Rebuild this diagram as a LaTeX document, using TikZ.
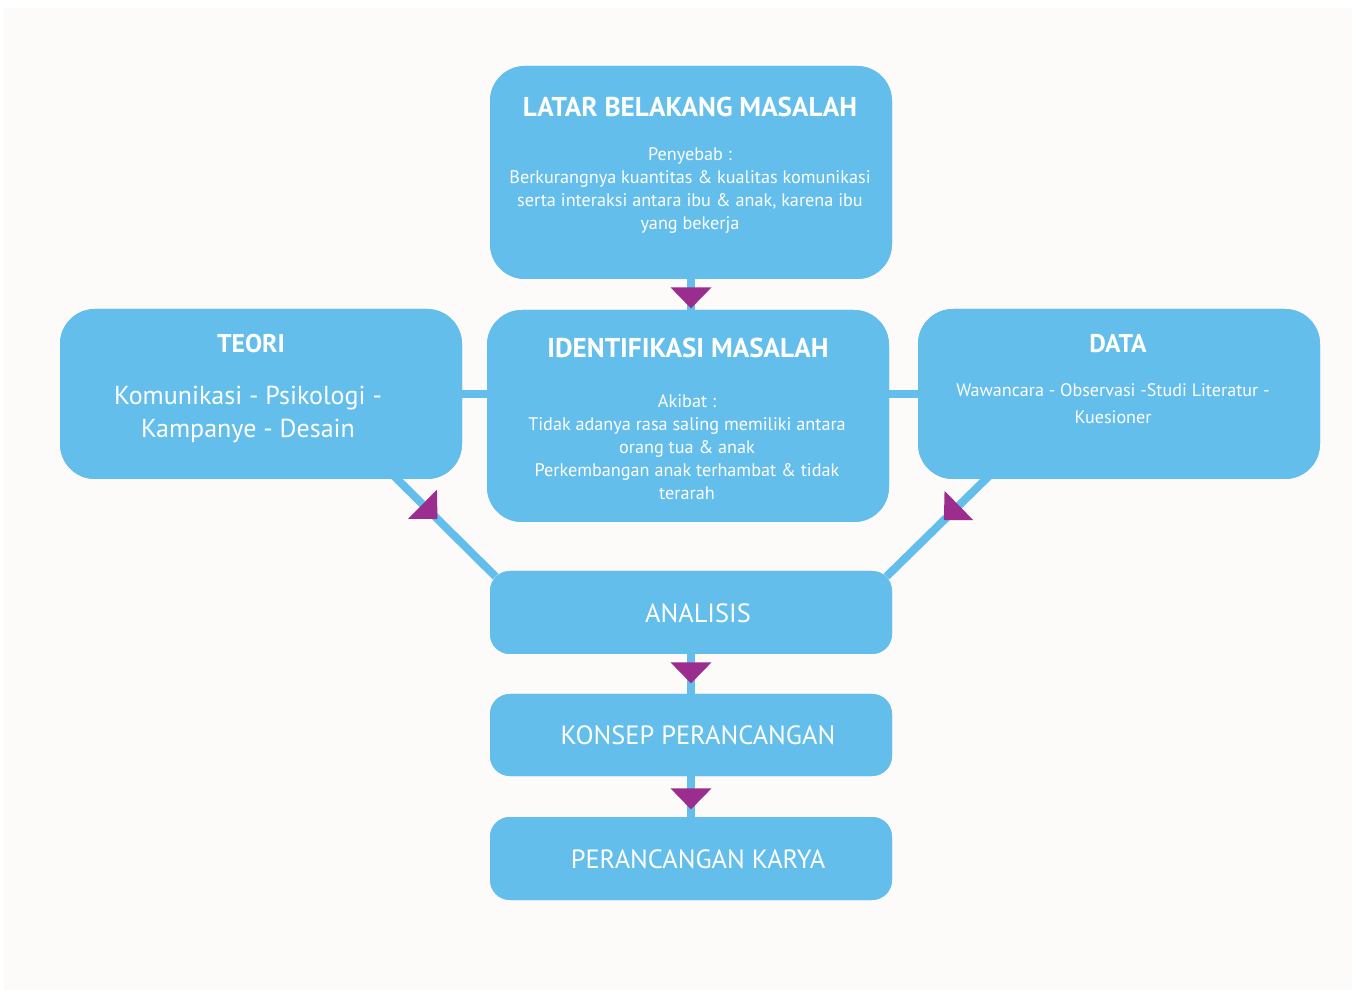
\documentclass[tikz,border=0pt]{standalone}
\usepackage{fontspec}
\setmainfont{PT Sans}
\usetikzlibrary{decorations.markings,calc}
\definecolor{boxblue}{RGB}{99,190,236}
\definecolor{arrpurple}{RGB}{155,45,142}
\definecolor{bgpaper}{RGB}{252,251,250}
\newcommand\myfs[2]{\fontsize{#1}{#2}\selectfont}
\begin{document}
\begin{tikzpicture}[x=0.5pt,y=-0.5pt,
  box/.style={fill=boxblue, rounded corners=17.5pt, minimum width=201pt, inner sep=0pt},
  smallbox/.style={fill=boxblue, rounded corners=10pt, minimum width=201pt, inner sep=0pt},
  txt/.style={text=white, inner sep=0pt, align=center},
  title/.style={txt, font=\myfs{13.6}{16}\bfseries},
  subtitle/.style={txt, font=\myfs{12.8}{15}\bfseries},
  body/.style={txt, font=\myfs{9.1}{11.5}},
  stage/.style={txt, font=\myfs{13.2}{15}},
  conn/.style={draw=boxblue, line width=4pt},
  triat/.style={postaction={decorate,decoration={markings,
     mark=at position #1 with {\fill[arrpurple] (0pt,10.25pt) -- (0pt,-10.25pt) -- (10.5pt,0pt) -- cycle;}}}}
]
\useasboundingbox (0,0) rectangle (1356,994);
\fill[white] (0,0) rectangle (1356,994);
\fill[bgpaper] (4,8) rectangle (1352,990);

% boxes (named, positions)
\node[box, minimum height=106.5pt] (latar) at (691,172.5) {};
\node[box, minimum height=106pt] (ident) at (688,416) {};
\node[box, minimum height=85pt] (teori) at (261,394) {};
\node[box, minimum height=85pt] (data) at (1119,394) {};
\node[smallbox, minimum height=41.5pt] (analisis) at (691,612.5) {};
\node[smallbox, minimum height=41pt] (konsep) at (691,735) {};
\node[smallbox, minimum height=41.5pt] (karya) at (691,858.5) {};

\coordinate (teoriOut) at ($(teori.south east)+(-69,-4)$);
\coordinate (dataOut) at ($(data.south west)+(72,-4)$);
\coordinate (analisisNW) at ($(analisis.north west)+(6,6)$);
\coordinate (analisisNE) at ($(analisis.north east)+(-6,6)$);

% connectors
\path[conn] (teori.east) -- (teori.east -| ident.west);
\path[conn] (data.west) -- (data.west -| ident.east);
\path[conn, triat=4pt] (latar.south) -- (latar.south |- ident.north);
\path[conn, triat=20.5pt] (teoriOut) -- (analisisNW);
\path[conn, triat=21.5pt] (dataOut) -- (analisisNE);
\path[conn, triat=4pt] (analisis.south) -- (konsep.north);
\path[conn, triat=6pt] (konsep.south) -- (karya.north);

% boxes drawn over connector ends
\node[box, minimum height=106.5pt] at (latar) {};
\node[box, minimum height=106pt] at (ident) {};
\node[box, minimum height=85pt] at (teori) {};
\node[box, minimum height=85pt] at (data) {};
\node[smallbox, minimum height=41.5pt] at (analisis) {};
\node[smallbox, minimum height=41pt] at (konsep) {};
\node[smallbox, minimum height=41.5pt] at (karya) {};

% texts
\node[title] (latarT) at (690,107) {LATAR BELAKANG MASALAH};
\node[body] (latarB) at (690,190) {Penyebab :\\Berkurangnya kuantitas \& kualitas komunikasi\\serta interaksi antara ibu \& anak, karena ibu\\yang bekerja};
\node[title] (identT) at (688,348) {IDENTIFIKASI MASALAH};
\node[body] (identB) at (687,447.5) {Akibat :\\Tidak adanya rasa saling memiliki antara\\orang tua \& anak\\Perkembangan anak terhambat \& tidak\\terarah};
\node[subtitle] (teoriT) at (251,344) {TEORI};
\node[txt, font=\myfs{13}{16.5}] (teoriB) at (248,414) {Komunikasi - Psikologi -\\Kampanye - Desain};
\node[subtitle] (dataT) at (1118,344) {DATA};
\node[body, font=\myfs{9.05}{13.5}] (dataB) at (1113,404) {Wawancara - Observasi -Studi Literatur -\\Kuesioner};
\node[stage] (analisisT) at (698,613) {ANALISIS};
\node[stage] (konsepT) at (698,735) {KONSEP PERANCANGAN};
\node[stage] (karyaT) at (698,859) {PERANCANGAN KARYA};
\end{tikzpicture}
\end{document}
